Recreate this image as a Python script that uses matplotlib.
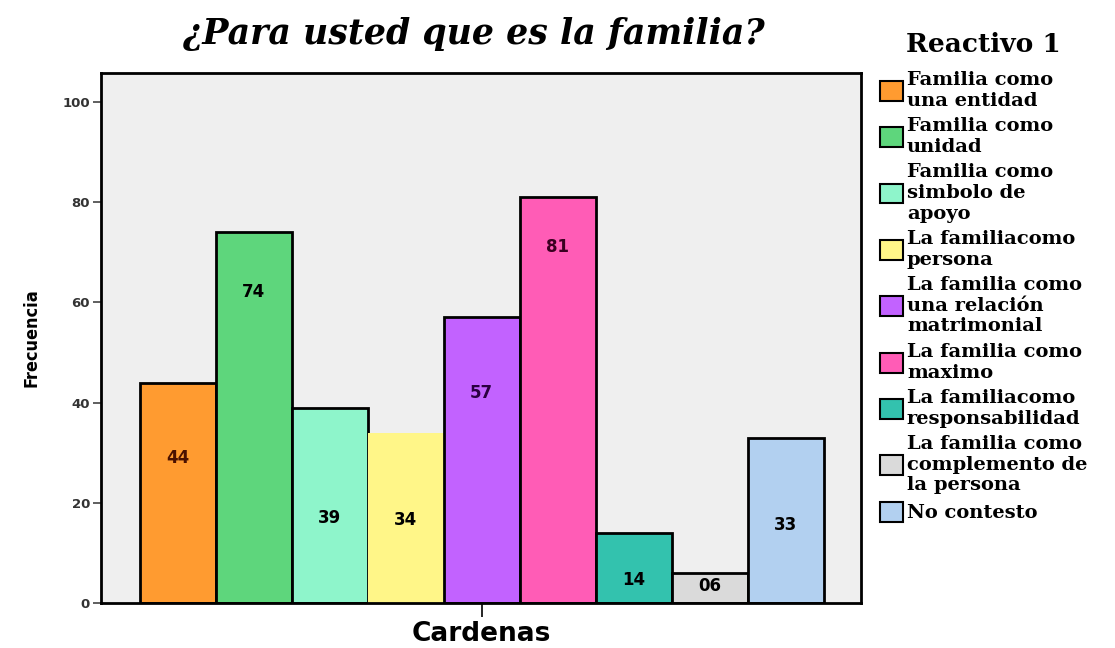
import numpy as np
import matplotlib
matplotlib.use("Agg")
import matplotlib.pyplot as plt
from matplotlib.patches import Patch

categorias = ["Familia como\nuna entidad",
              "Familia como\nunidad",
              "Familia como\nsimbolo de\napoyo",
              "La familiacomo\npersona",
              "La familia como\nuna relación\nmatrimonial",
              "La familia como\nmaximo",
              "La familiacomo\nresponsabilidad",
              "La familia como\ncomplemento de\nla persona",
              "No contesto"]
frecuencia = [44, 74, 39, 34, 57, 81, 14, 6, 33]
etiquetas = ["44", "74", "39", "34", "57", "81", "14", "06", "33"]
colores = ["#FF9B30", "#5ED67C", "#8EF5CB", "#FFF688", "#C262FF",
           "#FF5CB6", "#33C2AE", "#DADADA", "#B2D0F0"]
# where each count label sits inside its bar (as in the original)
label_y = [29, 62, 17, 16.5, 42, 71, 4.6, 3.4, 15.6]
label_col = ["#4a1000", "k", "k", "k", "#2a0040", "#3a0020", "k", "k", "k"]

fig = plt.figure(figsize=(11.15, 6.48), dpi=100)
fig.patch.set_facecolor("white")
ax = fig.add_axes([0.0906, 0.0694, 0.6816, 0.8179])
ax.set_facecolor("#EFEFEF")

x = np.arange(len(frecuencia))
for i in x:
    ec = "none" if i == 3 else "black"
    ax.bar(i, frecuencia[i], width=1.0, color=colores[i], edgecolor=ec,
           linewidth=2.0, zorder=2)
    ax.text(i, label_y[i], etiquetas[i], ha="center", va="center",
            fontsize=12, fontweight="bold", color=label_col[i], zorder=3)

ax.set_xlim(-1.01, 8.99)
ax.set_ylim(0, 105.8)
ax.set_yticks([0, 20, 40, 60, 80, 100])
ax.set_xticks([4])
ax.set_xticklabels(["Cardenas"], fontsize=19, fontweight="bold")
ax.tick_params(axis="y", length=6, width=1.2, labelsize=9.5, pad=2, color="#444444")
ax.tick_params(axis="x", length=10, width=1.2, pad=3)
for lab in ax.get_yticklabels():
    lab.set_fontweight("bold")
    lab.set_color("#333333")
for s in ax.spines.values():
    s.set_linewidth(2.0)
ax.set_ylabel("Frecuencia", fontsize=13, labelpad=16, fontweight="semibold",
              fontstretch="condensed")

fig.text(0.425, 0.948, "¿Para usted que es la familia?", ha="center", va="center",
         fontsize=25, fontweight="bold", style="italic", family="DejaVu Serif")

handles = [Patch(facecolor=c, edgecolor="black", linewidth=1.5) for c in colores]
leg = fig.legend(handles, categorias, loc="upper left",
                 bbox_to_anchor=(0.789, 0.95), frameon=False,
                 title="Reactivo 1", handlelength=1.2, handleheight=1.2,
                 handletextpad=0.2, labelspacing=0.38, borderaxespad=0,
                 borderpad=0,
                 prop={"family": "DejaVu Serif", "weight": "bold", "size": 14},
                 title_fontproperties={"family": "DejaVu Serif", "weight": "bold",
                                       "size": 19})
leg._legend_box.sep = 10
for t in leg.get_texts():
    t.set_linespacing(1.19)

fig.savefig("out.png", dpi=100)
